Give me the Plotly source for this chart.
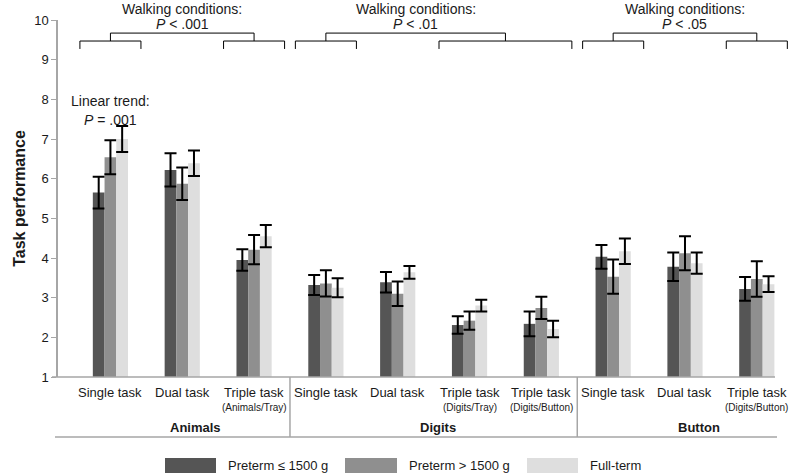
import plotly.graph_objects as go

# ---------------- data ----------------
categories = ["Single task", "Dual task", "Triple task",
              "Single task", "Dual task", "Triple task", "Triple task",
              "Single task", "Dual task", "Triple task"]
sublabels = ["", "", "(Animals/Tray)",
             "", "", "(Digits/Tray)", "(Digits/Button)",
             "", "", "(Digits/Button)"]
groups = ["Animals", "Digits", "Button"]
group_members = [[0, 1, 2], [3, 4, 5, 6], [7, 8, 9]]

series_names = ["Preterm \u2264 1500 g", "Preterm > 1500 g", "Full-term"]
vlbw = [5.65, 6.22, 3.95, 3.32, 3.39, 2.31, 2.34, 4.03, 3.78, 3.22]
vlbw_err = [0.40, 0.42, 0.27, 0.25, 0.26, 0.22, 0.31, 0.30, 0.36, 0.30]
pre = [6.54, 5.87, 4.21, 3.36, 3.10, 2.42, 2.74, 3.53, 4.12, 3.47]
pre_err = [0.43, 0.41, 0.37, 0.33, 0.31, 0.23, 0.28, 0.43, 0.43, 0.45]
full = [7.00, 6.39, 4.55, 3.25, 3.64, 2.80, 2.21, 4.17, 3.87, 3.34]
full_err = [0.33, 0.32, 0.28, 0.24, 0.16, 0.15, 0.21, 0.32, 0.27, 0.20]

# walking-condition comparisons: (left categories, right categories, p text)
comparisons = [([0], [2], "< .001"), ([3], [5, 6], "< .01"), ([7], [9], "< .05")]
trend_category = 0
trend_text = "= .001"

yticks = list(range(1, 11))

# ---------------- styling ----------------
colors = ["#555555", "#8f8f8f", "#dedede"]
axis_grey = "#a6a6a6"
txt = "#1a1a1a"
FONT = "Arial, Liberation Sans, sans-serif"

W, H = 792, 476
L, R, T, B = 58, 0, 20, 99
plot_h = H - T - B


def py(px):
    """pixel row -> paper y"""
    return (H - B - px) / plot_h


def pxx(px):
    """pixel column -> paper x"""
    return (px - L) / (W - L - R)


x = list(range(len(categories)))
fig = go.Figure()
for name, vals, errs, col in zip(series_names, [vlbw, pre, full],
                                 [vlbw_err, pre_err, full_err], colors):
    fig.add_trace(go.Bar(
        x=x, y=[v - 1 for v in vals], base=1, name=name,
        marker=dict(color=col, line=dict(width=0)),
        error_y=dict(type="data", array=errs, color="black",
                     thickness=2, width=6),
        showlegend=False,
    ))

shapes = []
annotations = []

# brackets
y_top, y_mid, y_bot = 9.67, 9.47, 9.27
hw = 0.425
for left, right, ptxt in comparisons:
    lc = (min(left) + max(left)) / 2
    rc = (min(right) + max(right)) / 2
    for members in (left, right):
        a, b = min(members) - hw, max(members) + hw
        shapes.append(dict(type="path", xref="x", yref="y",
                           path=f"M {a} {y_bot} L {a} {y_mid} L {b} {y_mid} L {b} {y_bot}",
                           line=dict(color="black", width=1)))
    shapes.append(dict(type="path", xref="x", yref="y",
                       path=f"M {lc} {y_mid} L {lc} {y_top} L {rc} {y_top} L {rc} {y_mid}",
                       line=dict(color="black", width=1)))
    mc = (lc + rc) / 2
    annotations.append(dict(x=mc, y=py(9), xref="x", yref="paper",
                            text="Walking conditions:", showarrow=False,
                            font=dict(size=14, color=txt, family=FONT),
                            xanchor="center", yanchor="middle"))
    annotations.append(dict(x=mc, y=py(24), xref="x", yref="paper",
                            text=f"<i>P</i> {ptxt}", showarrow=False,
                            font=dict(size=14, color=txt, family=FONT),
                            xanchor="center", yanchor="middle"))

# linear trend
annotations.append(dict(x=trend_category, y=py(91), xref="x", yref="paper",
                        text="Linear trend:", showarrow=False,
                        font=dict(size=14, color=txt, family=FONT)))
annotations.append(dict(x=trend_category, y=py(110), xref="x", yref="paper",
                        text=f"<i>P</i> {trend_text}", showarrow=False,
                        font=dict(size=14, color=txt, family=FONT)))

# category labels
for i, (c, s) in enumerate(zip(categories, sublabels)):
    annotations.append(dict(x=i, y=py(392), xref="x", yref="paper", text=c,
                            showarrow=False, font=dict(size=13, color=txt, family=FONT),
                            yanchor="middle"))
    if s:
        annotations.append(dict(x=i, y=py(407), xref="x", yref="paper", text=s,
                                showarrow=False, font=dict(size=10, color=txt, family=FONT),
                                yanchor="middle"))

# group labels
group_label_x = [1.18, 4.56, 8.20]
for g, gx in zip(groups, group_label_x):
    annotations.append(dict(x=gx, y=py(427), xref="x", yref="paper",
                            text=f"<b>{g}</b>", showarrow=False,
                            font=dict(size=13, color=txt, family=FONT), yanchor="middle"))

# baseline and group lines
shapes.append(dict(type="line", xref="paper", yref="paper", x0=pxx(52), x1=pxx(775),
                   y0=py(377), y1=py(377), line=dict(color=axis_grey, width=1.5)))
shapes.append(dict(type="line", xref="paper", yref="paper", x0=pxx(55), x1=pxx(777),
                   y0=py(437), y1=py(437), line=dict(color=axis_grey, width=1.5)))
for members in group_members[:-1]:
    sx = max(members) + 0.5
    shapes.append(dict(type="line", xref="x", yref="paper", x0=sx, x1=sx,
                       y0=py(377), y1=py(437), line=dict(color=axis_grey, width=1.5)))

# legend (drawn manually)
legend_sw = [(165, 216), (345, 397), (527, 578)]
for (a, b), col, name in zip(legend_sw, colors, series_names):
    shapes.append(dict(type="rect", xref="paper", yref="paper",
                       x0=pxx(a), x1=pxx(b), y0=py(473), y1=py(458),
                       fillcolor=col, line=dict(width=0)))
    annotations.append(dict(x=pxx(b + 10), y=py(465), xref="paper", yref="paper",
                            text=name, showarrow=False, xanchor="left", yanchor="middle",
                            font=dict(size=13, color=txt, family=FONT)))

fig.update_layout(
    width=W, height=H,
    margin=dict(l=L, r=R, t=T, b=B, pad=0),
    plot_bgcolor="white", paper_bgcolor="white",
    barmode="group", bargap=0.51, bargroupgap=0,
    font=dict(family=FONT, color=txt),
    shapes=shapes, annotations=annotations,
    xaxis=dict(range=[-0.73, 9.49], showticklabels=False, showline=False,
               showgrid=False, zeroline=False, ticks=""),
    yaxis=dict(range=[1, 10], tickvals=yticks, ticks="outside", ticklen=5,
               tickcolor=axis_grey, showline=True, linecolor=axis_grey, linewidth=1.5,
               showgrid=False, zeroline=False,
               tickfont=dict(size=13, color=txt, family=FONT),
               title=dict(text="<b>Task performance</b>", standoff=5,
                          font=dict(size=16, color=txt, family=FONT))),
)

fig.write_html("out.html", config={"displayModeBar": False},
               post_script="document.body.style.margin='0';document.body.style.overflow='hidden';")
